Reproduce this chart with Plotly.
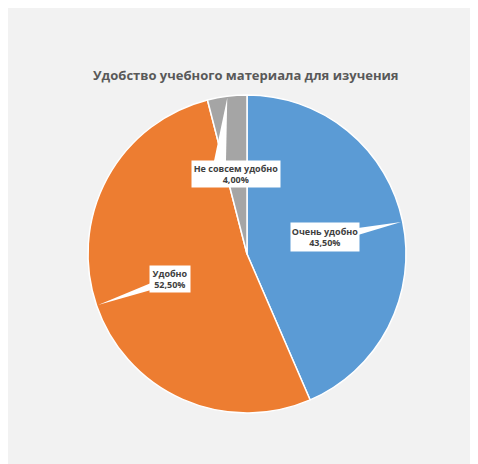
import math
import plotly.graph_objects as go

# ---- data ----
categories = ["Очень удобно", "Удобно", "Не совсем удобно"]
values = [43.5, 52.5, 4.0]
colors = ["#5B9BD5", "#ED7D31", "#A5A5A5"]
title_text = "Удобство учебного материала для изучения"

W, H = 470, 456
OFF = 8  # page body margin in the screenshot

def px2paper(px, py):
    return (px - OFF) / W, (H - (py - OFF)) / H

# pie geometry (screenshot pixels)
CX, CY, R = 247, 254, 159
dx0, dy0 = px2paper(CX - R, CY + R)
dx1, dy1 = px2paper(CX + R, CY - R)

fig = go.Figure()
fig.add_trace(go.Pie(
    labels=categories, values=values, sort=False, direction="clockwise",
    rotation=0, marker=dict(colors=colors, line=dict(color="white", width=1.5)),
    textinfo="none", hoverinfo="label+percent", showlegend=False,
    domain=dict(x=[dx0, dx1], y=[dy0, dy1]),
))

# label boxes (centre pixel, size) and wedge bases
boxes = [
    dict(c=(325, 237), w=68, h=28, base=((358, 228), (358, 235))),
    dict(c=(170, 279), w=40, h=26, base=((151, 283), (151, 290))),
    dict(c=(236, 174), w=88, h=26, base=((214, 161), (226, 161))),
]

total = sum(values)
shapes = []
annotations = []
cum = 0
for cat, v, b in zip(categories, values, boxes):
    mid = (cum + v / 2) / total * 2 * math.pi
    cum += v
    tx = CX + R * math.sin(mid) * 0.99
    ty = CY - R * math.cos(mid) * 0.99
    p0 = px2paper(*b["base"][0]); p1 = px2paper(*b["base"][1]); pt = px2paper(tx, ty)
    shapes.append(dict(type="path", xref="paper", yref="paper",
                       path=f"M {p0[0]},{p0[1]} L {pt[0]},{pt[1]} L {p1[0]},{p1[1]} Z",
                       fillcolor="white", line=dict(width=0), layer="above"))
    ax, ay = px2paper(*b["c"])
    pct = f"{v:.2f}".replace(".", ",") + "%"
    annotations.append(dict(
        x=ax, y=ay, xref="paper", yref="paper", showarrow=False,
        text=f"<b>{cat}<br>{pct}</b>", align="center",
        font=dict(family="Open Sans", size=9, color="#404040"),
        bgcolor="white", width=b["w"], height=b["h"], borderpad=0,
        xanchor="center", yanchor="middle",
    ))

tx, ty = px2paper(246, 75)
annotations.append(dict(x=tx, y=ty, xref="paper", yref="paper", showarrow=False,
                        text=f"<b>{title_text}</b>",
                        font=dict(family="Open Sans", size=13, color="#595959"),
                        xanchor="center", yanchor="middle"))

fig.update_layout(
    width=W, height=H, margin=dict(l=0, r=0, t=0, b=0),
    paper_bgcolor="#F2F2F2", plot_bgcolor="#F2F2F2",
    shapes=shapes, annotations=annotations,
)
fig.write_html("out.html")
